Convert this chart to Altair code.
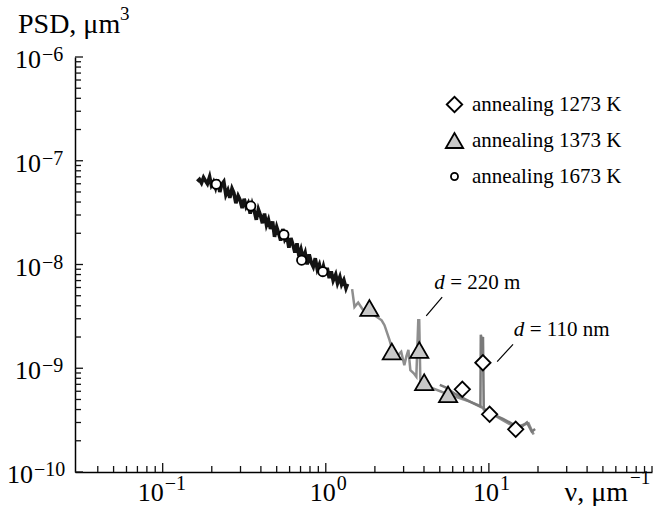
import altair as alt
import pandas as pd

FONT = "Liberation Serif"

# ---- spectra -------------------------------------------------------------
nu_1673 = [0.163, 0.168, 0.173, 0.178, 0.183, 0.188, 0.194, 0.199, 0.205, 0.211,
           0.217, 0.224, 0.230, 0.237, 0.244, 0.251, 0.258, 0.266, 0.273, 0.281,
           0.290, 0.298, 0.307, 0.316, 0.325, 0.334, 0.344, 0.354, 0.364, 0.375,
           0.386, 0.397, 0.409, 0.421, 0.433, 0.445, 0.458, 0.472, 0.485, 0.500,
           0.514, 0.529, 0.545, 0.561, 0.577, 0.594, 0.611, 0.629, 0.647, 0.666,
           0.685, 0.705, 0.726, 0.747, 0.769, 0.791, 0.814, 0.838, 0.862, 0.887,
           0.913, 0.940, 0.967, 0.995, 1.02, 1.05, 1.08, 1.11, 1.15, 1.18,
           1.22, 1.25, 1.29, 1.33, 1.36]
psd_1673 = [6.3e-8, 6.6e-8, 6.1e-8, 6.9e-8, 6.4e-8, 6.0e-8, 7.0e-8, 5.8e-8, 6.3e-8, 5.5e-8,
            6.6e-8, 5.0e-8, 5.9e-8, 6.3e-8, 4.7e-8, 5.2e-8, 4.4e-8, 5.4e-8, 4.9e-8, 3.9e-8,
            4.6e-8, 4.2e-8, 3.5e-8, 4.3e-8, 3.6e-8, 3.9e-8, 3.1e-8, 3.8e-8, 3.3e-8, 2.7e-8,
            3.4e-8, 3.0e-8, 2.5e-8, 3.1e-8, 2.4e-8, 2.7e-8, 2.2e-8, 2.6e-8, 1.85e-8, 2.3e-8,
            2.0e-8, 1.7e-8, 2.2e-8, 1.75e-8, 1.9e-8, 1.45e-8, 1.8e-8, 1.55e-8, 1.3e-8, 1.6e-8,
            1.2e-8, 1.4e-8, 1.15e-8, 1.3e-8, 1.0e-8, 1.25e-8, 1.05e-8, 9.5e-9, 1.15e-8, 9.0e-9,
            1.0e-8, 8.2e-9, 9.6e-9, 8.0e-9, 9.3e-9, 7.4e-9, 8.6e-9, 7.0e-9, 8.0e-9, 6.6e-9,
            7.6e-9, 6.4e-9, 7.1e-9, 5.9e-9, 6.5e-9]

nu_1373 = [1.45, 1.50, 1.58, 1.68, 1.85, 2.07, 2.20, 2.29, 2.46, 2.56,
           2.70, 2.90, 3.03, 3.12, 3.21, 3.30, 3.45, 3.59, 3.69, 3.74,
           3.80, 4.30, 5.17, 6.26, 7.55, 8.69, 10.0, 12.0, 14.5, 16.3,
           17.5, 18.8]
psd_1373 = [5.8e-9, 3.9e-9, 4.3e-9, 3.7e-9, 3.5e-9, 3.1e-9, 2.9e-9, 2.6e-9, 1.87e-9, 1.5e-9,
            1.29e-9, 1.44e-9, 1.07e-9, 1.3e-9, 1.5e-9, 9.6e-10, 9.0e-10, 8.3e-10, 2.9e-9, 2.9e-9,
            7.5e-10, 6.6e-10, 5.9e-10, 5.3e-10, 4.8e-10, 4.4e-10, 3.8e-10, 3.2e-10, 2.7e-10, 2.85e-10,
            2.95e-10, 2.3e-10]

nu_1273 = [5.00, 5.47, 6.21, 7.14, 8.22, 8.87, 8.92, 9.05, 9.20, 9.30,
           10.6, 12.2, 14.0, 15.7, 17.1, 18.3, 19.2]
psd_1273 = [6.9e-10, 6.5e-10, 5.65e-10, 5.05e-10, 4.5e-10, 4.25e-10, 2.1e-9, 1.9e-9, 2.0e-9, 4.0e-10,
            3.6e-10, 3.25e-10, 2.9e-10, 2.7e-10, 3.0e-10, 2.45e-10, 2.6e-10]

# ---- markers -------------------------------------------------------------
series_names = ["annealing 1273 K", "annealing 1373 K", "annealing 1673 K"]
mk_nu_1273 = [6.87, 9.19, 10.1, 14.6]
mk_psd_1273 = [6.27e-10, 1.13e-9, 3.60e-10, 2.58e-10]
mk_nu_1373 = [1.85, 2.54, 3.74, 4.01, 5.62]
mk_psd_1373 = [3.81e-9, 1.45e-9, 1.50e-9, 7.33e-10, 5.61e-10]
mk_nu_1673 = [0.213, 0.347, 0.554, 0.711, 0.959]
mk_psd_1673 = [5.93e-8, 3.66e-8, 1.94e-8, 1.10e-8, 8.53e-9]

# ---- annotations ---------------------------------------------------------
ann_nu = [4.62, 14.2]
ann_psd = [5.81e-9, 2.05e-9]
ann_rest = ["= 220 m", "= 110 nm"]
lead_nu1 = [5.17, 14.06]
lead_psd1 = [4.86e-9, 1.70e-9]
lead_nu2 = [4.13, 11.24]
lead_psd2 = [3.19e-9, 1.156e-9]

# ---- ticks ---------------------------------------------------------------
x_major = [0.1, 1, 10]
x_exp = ["\u22121", "0", "1"]
x_minor = [0.04, 0.05, 0.06, 0.07, 0.08, 0.09,
           0.2, 0.3, 0.4, 0.5, 0.6, 0.7, 0.8, 0.9,
           2, 3, 4, 5, 6, 7, 8, 9,
           20, 30, 40, 50, 60, 70, 80, 90, 100]
y_major = [1e-10, 1e-9, 1e-8, 1e-7, 1e-6]
y_exp = ["\u221210", "\u22129", "\u22128", "\u22127", "\u22126"]
y_minor = [m * 10.0 ** e for e in (-10, -9, -8, -7) for m in range(2, 10)]
X_MIN, X_MAX = 0.029, 100
Y_MIN, Y_MAX = 1e-10, 1e-6

W, H = 577, 415
xs = alt.Scale(type="log", domain=[X_MIN, X_MAX], nice=False)
ys = alt.Scale(type="log", domain=[Y_MIN, Y_MAX], nice=False)


def X(f):
    return alt.X(f, type="quantitative", scale=xs, title=None)


def Y(f):
    return alt.Y(f, type="quantitative", scale=ys, title=None)


df1673 = pd.DataFrame({"nu": nu_1673, "psd": psd_1673})
df1373 = pd.DataFrame({"nu": nu_1373, "psd": psd_1373})
df1273 = pd.DataFrame({"nu": nu_1273, "psd": psd_1273})

line1673 = alt.Chart(df1673).mark_line(color="#141414", strokeWidth=3.6).encode(
    x=X("nu"), y=Y("psd"))
line1373 = alt.Chart(df1373).mark_line(color="#8e8e8e", strokeWidth=2.5).encode(
    x=X("nu"), y=Y("psd"))
line1273 = alt.Chart(df1273).mark_line(color="#7a7a7a", strokeWidth=2.5).encode(
    x=X("nu"), y=Y("psd"))

dfm = pd.concat([
    pd.DataFrame({"nu": mk_nu_1273, "psd": mk_psd_1273, "series": series_names[0]}),
    pd.DataFrame({"nu": mk_nu_1373, "psd": mk_psd_1373, "series": series_names[1]}),
    pd.DataFrame({"nu": mk_nu_1673, "psd": mk_psd_1673, "series": series_names[2]}),
])

legend = alt.Legend(
    title=None, orient="none", legendX=369, legendY=37, padding=0,
    labelFont=FONT, labelFontSize=21, labelColor="black", labelOffset=7,
    rowPadding=13, symbolStrokeWidth=1.8,
    symbolSize=alt.ExprRef("datum.value == 'annealing 1673 K' ? 50 : (datum.value == 'annealing 1373 K' ? 300 : 240)"),
)
points = alt.Chart(dfm).transform_calculate(
    msz="datum.series == 'annealing 1673 K' ? 85 : (datum.series == 'annealing 1373 K' ? 330 : 235)"
).mark_point(filled=False, opacity=1, stroke="black", strokeWidth=1.8).encode(
    x=X("nu"), y=Y("psd"),
    shape=alt.Shape("series:N", scale=alt.Scale(domain=series_names,
                    range=["diamond", "triangle-up", "circle"]), legend=legend),
    fill=alt.Fill("series:N", scale=alt.Scale(domain=series_names,
                  range=["white", "#c8c8c8", "white"]), legend=legend),
    size=alt.Size("msz:Q", scale=None),
)

# leader lines + annotation text
dfl = pd.DataFrame({"a": lead_nu1, "b": lead_psd1, "c": lead_nu2, "d": lead_psd2})
leaders = alt.Chart(dfl).mark_rule(color="black", strokeWidth=1.2).encode(
    x=X("a"), y=Y("b"), x2="c", y2="d")
dfa = pd.DataFrame({"nu": ann_nu, "psd": ann_psd, "rest": ann_rest})
ann_d = alt.Chart(dfa).mark_text(text="d", font=FONT, fontSize=21, fontStyle="italic",
                                 align="left", baseline="alphabetic").encode(
    x=X("nu"), y=Y("psd"))
ann_r = alt.Chart(dfa).mark_text(font=FONT, fontSize=21, align="left",
                                 baseline="alphabetic", dx=16).encode(
    x=X("nu"), y=Y("psd"), text="rest:N")

# inward ticks
dxM = pd.DataFrame({"v": x_major})
dxm = pd.DataFrame({"v": x_minor})
dyM = pd.DataFrame({"v": y_major})
dym = pd.DataFrame({"v": y_minor})
tick_style = dict(color="#111", strokeWidth=1.3)
xtM = alt.Chart(dxM).mark_rule(y2Offset=-9, **tick_style).encode(
    x=X("v"), y=alt.datum(Y_MIN), y2=alt.datum(Y_MIN))
xtm = alt.Chart(dxm).mark_rule(y2Offset=-6, **tick_style).encode(
    x=X("v"), y=alt.datum(Y_MIN), y2=alt.datum(Y_MIN))
ytM = alt.Chart(dyM).mark_rule(x2Offset=8, **tick_style).encode(
    y=Y("v"), x=alt.datum(X_MIN), x2=alt.datum(X_MIN))
ytm = alt.Chart(dym).mark_rule(x2Offset=6, **tick_style).encode(
    y=Y("v"), x=alt.datum(X_MIN), x2=alt.datum(X_MIN))

# tick labels: "10" + superscript exponent
BASE_FS, EXP_FS = 26, 20
dxl = pd.DataFrame({"v": x_major, "e": x_exp})
xl_base_long = alt.Chart(dxl).transform_filter("length(datum.e) > 1").mark_text(
    text="10", font=FONT, fontSize=BASE_FS, align="right", baseline="alphabetic", dx=1, dy=29
).encode(x=X("v"), y=alt.datum(Y_MIN))
xl_exp_long = alt.Chart(dxl).transform_filter("length(datum.e) > 1").mark_text(
    font=FONT, fontSize=EXP_FS, align="left", baseline="alphabetic", dx=2, dy=18
).encode(x=X("v"), y=alt.datum(Y_MIN), text="e:N")
xl_base_short = alt.Chart(dxl).transform_filter("length(datum.e) == 1").mark_text(
    text="10", font=FONT, fontSize=BASE_FS, align="right", baseline="alphabetic", dx=10, dy=29
).encode(x=X("v"), y=alt.datum(Y_MIN))
xl_exp_short = alt.Chart(dxl).transform_filter("length(datum.e) == 1").mark_text(
    font=FONT, fontSize=EXP_FS, align="left", baseline="alphabetic", dx=11, dy=18
).encode(x=X("v"), y=alt.datum(Y_MIN), text="e:N")

dyl = pd.DataFrame({"v": y_major, "e": y_exp})
yl_base_long = alt.Chart(dyl).transform_filter("length(datum.e) > 2").mark_text(
    text="10", font=FONT, fontSize=BASE_FS, align="right", baseline="alphabetic", dx=-42, dy=11
).encode(y=Y("v"), x=alt.datum(X_MIN))
yl_exp_long = alt.Chart(dyl).transform_filter("length(datum.e) > 2").mark_text(
    font=FONT, fontSize=EXP_FS, align="left", baseline="alphabetic", dx=-41, dy=4
).encode(y=Y("v"), x=alt.datum(X_MIN), text="e:N")
yl_base_short = alt.Chart(dyl).transform_filter("length(datum.e) <= 2").mark_text(
    text="10", font=FONT, fontSize=BASE_FS, align="right", baseline="alphabetic", dx=-34, dy=11
).encode(y=Y("v"), x=alt.datum(X_MIN))
yl_exp_short = alt.Chart(dyl).transform_filter("length(datum.e) <= 2").mark_text(
    font=FONT, fontSize=EXP_FS, align="left", baseline="alphabetic", dx=-33, dy=4
).encode(y=Y("v"), x=alt.datum(X_MIN), text="e:N")

# axis titles
one = pd.DataFrame({"k": [0]})
ytitle = alt.Chart(one).mark_text(text="PSD, \u03bcm", font=FONT, fontSize=28,
                                  align="left", baseline="alphabetic").encode(
    x=alt.value(-57), y=alt.value(-24))
ytitle_exp = alt.Chart(one).mark_text(text="3", font=FONT, fontSize=19,
                                      align="left", baseline="alphabetic").encode(
    x=alt.value(45), y=alt.value(-37))
xtitle = alt.Chart(one).mark_text(text="\u03bd, \u03bcm", font=FONT, fontSize=28,
                                  align="right", baseline="alphabetic").encode(
    x=alt.value(553), y=alt.value(444))
xtitle_exp = alt.Chart(one).mark_text(text="\u22121", font=FONT, fontSize=19,
                                      align="left", baseline="alphabetic").encode(
    x=alt.value(555), y=alt.value(427))

chart = alt.layer(
    line1673, line1373, line1273, leaders, points, ann_d, ann_r,
    xtM, xtm, ytM, ytm,
    xl_base_long, xl_exp_long, xl_base_short, xl_exp_short,
    yl_base_long, yl_exp_long, yl_base_short, yl_exp_short,
    ytitle, ytitle_exp, xtitle, xtitle_exp,
).properties(
    width=W, height=H,
    autosize=alt.AutoSizeParams(type="none"),
    padding={"left": 75, "top": 57, "right": 3, "bottom": 34},
    background="white",
).configure_view(stroke=None).configure_axis(
    labels=False, ticks=False, grid=False, domainColor="black", domainWidth=1.5
)

chart.save("out.html", embed_options={"renderer": "svg", "actions": False})
